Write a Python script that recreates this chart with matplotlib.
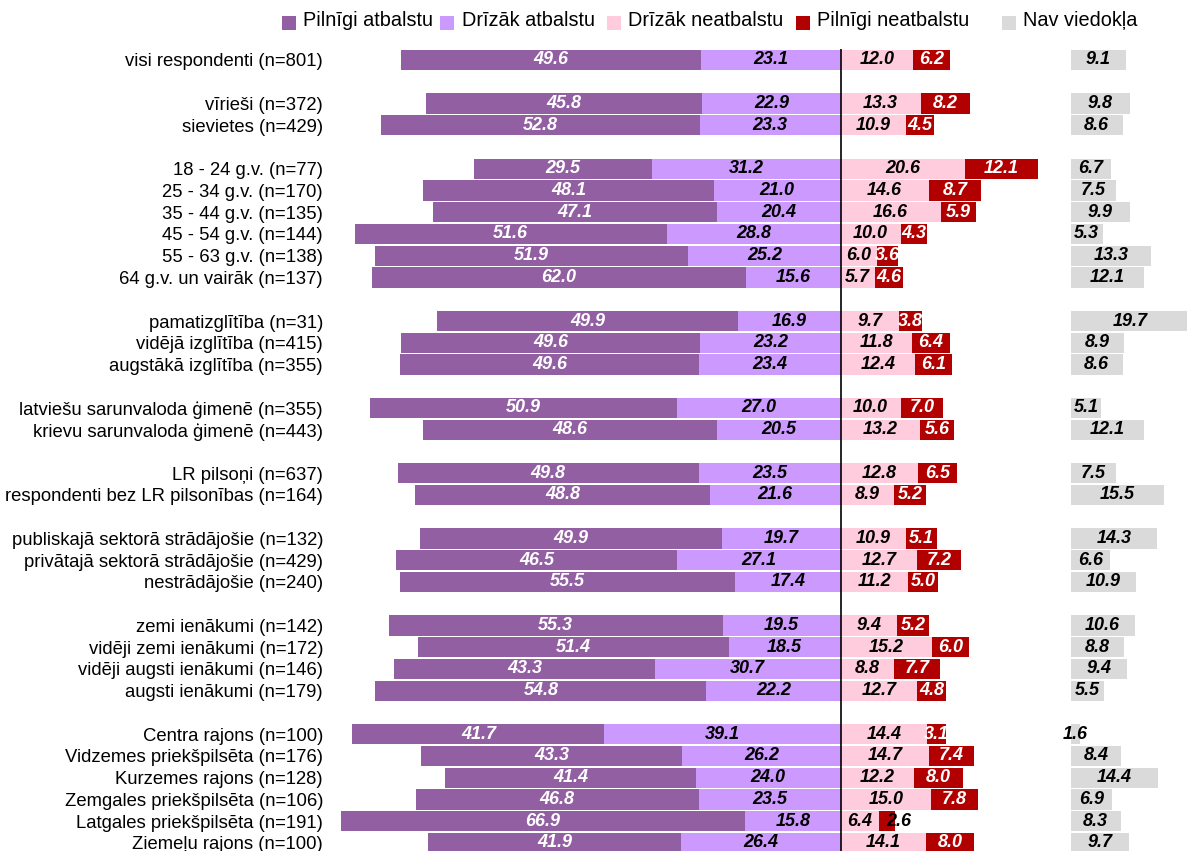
import matplotlib
matplotlib.use("Agg")
import matplotlib.pyplot as plt
from matplotlib.patches import Rectangle

plt.rcParams['font.family'] = ['Liberation Sans', 'DejaVu Sans']

series_names = ["Pilnīgi atbalstu", "Drīzāk atbalstu", "Drīzāk neatbalstu",
                "Pilnīgi neatbalstu", "Nav viedokļa"]
colors = ["#9260A2", "#CC9AFE", "#FFCCDD", "#B20000", "#DADADA"]

groups = [
    ["visi respondenti (n=801)"],
    ["vīrieši (n=372)", "sievietes (n=429)"],
    ["18 - 24 g.v. (n=77)", "25 - 34 g.v. (n=170)", "35 - 44 g.v. (n=135)",
     "45 - 54 g.v. (n=144)", "55 - 63 g.v. (n=138)", "64 g.v. un vairāk (n=137)"],
    ["pamatizglītība (n=31)", "vidējā izglītība (n=415)", "augstākā izglītība (n=355)"],
    ["latviešu sarunvaloda ģimenē (n=355)", "krievu sarunvaloda ģimenē (n=443)"],
    ["LR pilsoņi (n=637)", "respondenti bez LR pilsonības (n=164)"],
    ["publiskajā sektorā strādājošie (n=132)", "privātajā sektorā strādājošie (n=429)",
     "nestrādājošie (n=240)"],
    ["zemi ienākumi (n=142)", "vidēji zemi ienākumi (n=172)",
     "vidēji augsti ienākumi (n=146)", "augsti ienākumi (n=179)"],
    ["Centra rajons (n=100)", "Vidzemes priekšpilsēta (n=176)", "Kurzemes rajons (n=128)",
     "Zemgales priekšpilsēta (n=106)", "Latgales priekšpilsēta (n=191)",
     "Ziemeļu rajons (n=100)"],
]

pilnigi_atbalstu = [49.6, 45.8, 52.8, 29.5, 48.1, 47.1, 51.6, 51.9, 62.0, 49.9, 49.6, 49.6,
                    50.9, 48.6, 49.8, 48.8, 49.9, 46.5, 55.5, 55.3, 51.4, 43.3, 54.8,
                    41.7, 43.3, 41.4, 46.8, 66.9, 41.9]
drizak_atbalstu = [23.1, 22.9, 23.3, 31.2, 21.0, 20.4, 28.8, 25.2, 15.6, 16.9, 23.2, 23.4,
                   27.0, 20.5, 23.5, 21.6, 19.7, 27.1, 17.4, 19.5, 18.5, 30.7, 22.2,
                   39.1, 26.2, 24.0, 23.5, 15.8, 26.4]
drizak_neatbalstu = [12.0, 13.3, 10.9, 20.6, 14.6, 16.6, 10.0, 6.0, 5.7, 9.7, 11.8, 12.4,
                     10.0, 13.2, 12.8, 8.9, 10.9, 12.7, 11.2, 9.4, 15.2, 8.8, 12.7,
                     14.4, 14.7, 12.2, 15.0, 6.4, 14.1]
pilnigi_neatbalstu = [6.2, 8.2, 4.5, 12.1, 8.7, 5.9, 4.3, 3.6, 4.6, 3.8, 6.4, 6.1,
                      7.0, 5.6, 6.5, 5.2, 5.1, 7.2, 5.0, 5.2, 6.0, 7.7, 4.8,
                      3.1, 7.4, 8.0, 7.8, 2.6, 8.0]
nav_viedokla = [9.1, 9.8, 8.6, 6.7, 7.5, 9.9, 5.3, 13.3, 12.1, 19.7, 8.9, 8.6,
                5.1, 12.1, 7.5, 15.5, 14.3, 6.6, 10.9, 10.6, 8.8, 9.4, 5.5,
                1.6, 8.4, 14.4, 6.9, 8.3, 9.7]

# ---- layout ----
W, H = 1187, 851
PX_PER_UNIT = 6.04
CENTER_PX = 840.5
ROW0_PX = 60
PITCH = 21.75
AX_LEFT_PX = 330
AX_TOP_PX = 49
NV_OFFSET = 38.1

labels, ypos = [], []
r = 0
for gi, g in enumerate(groups):
    for lab in g:
        labels.append(lab)
        ypos.append(r)
        r += 1
    r += 1

fig = plt.figure(figsize=(W / 100, H / 100), dpi=100)
ax = fig.add_axes([AX_LEFT_PX / W, 0, (W - AX_LEFT_PX) / W, (H - AX_TOP_PX) / H])
ax.set_xlim((AX_LEFT_PX - CENTER_PX) / PX_PER_UNIT, (W - CENTER_PX) / PX_PER_UNIT)
ax.set_ylim((H - ROW0_PX) / PITCH, -(ROW0_PX - AX_TOP_PX) / PITCH)
for s in ax.spines.values():
    s.set_visible(False)
ax.set_xticks([])
ax.set_yticks(ypos)
ax.set_yticklabels(labels, fontsize=13.3)
ax.tick_params(axis='y', length=0, pad=5)

bh = 0.94
lab_kw = dict(fontsize=13, fontweight='bold', fontstyle='italic',
              ha='center', va='center', clip_on=True)

for i, y in enumerate(ypos):
    pa, da = pilnigi_atbalstu[i], drizak_atbalstu[i]
    dn, pn = drizak_neatbalstu[i], pilnigi_neatbalstu[i]
    nv = nav_viedokla[i]
    # left side
    ax.barh(y, -da, height=bh, color=colors[1], left=0)
    ax.barh(y, -pa, height=bh, color=colors[0], left=-da)
    ax.text(-da - pa / 2, y, f"{pa:.1f}", color='white', **lab_kw)
    ax.text(-da / 2, y, f"{da:.1f}", color='black', **lab_kw)
    # right side
    ax.barh(y, dn, height=bh, color=colors[2], left=0)
    ax.barh(y, pn, height=bh, color=colors[3], left=dn)
    ax.text(dn / 2, y, f"{dn:.1f}", color='black', **lab_kw)
    if pn < 3:
        ax.text(dn + pn / 2 + 2.0, y, f"{pn:.1f}", color='black', **lab_kw)
    else:
        ax.text(dn + pn / 2, y, f"{pn:.1f}", color='white', **lab_kw)
    # no opinion
    ax.barh(y, nv, height=bh, color=colors[4], left=NV_OFFSET)
    ax.text(NV_OFFSET + nv / 2, y, f"{nv:.1f}", color='black', **lab_kw)

ax.axvline(0, color='black', lw=1.2, zorder=5)

# ---- legend ----
leg_sq_x = [282, 440, 607, 796, 1002]
leg_tx_x = [303, 462, 628, 817, 1023]
sq = 14
sq_top = 16
for k in range(5):
    fig.add_artist(Rectangle((leg_sq_x[k] / W, 1 - (sq_top + sq) / H), sq / W, sq / H,
                             transform=fig.transFigure, color=colors[k], lw=0))
    fig.text(leg_tx_x[k] / W, 1 - 20 / H, series_names[k], fontsize=14.3,
             ha='left', va='center')

fig.savefig("out.png", dpi=100)
